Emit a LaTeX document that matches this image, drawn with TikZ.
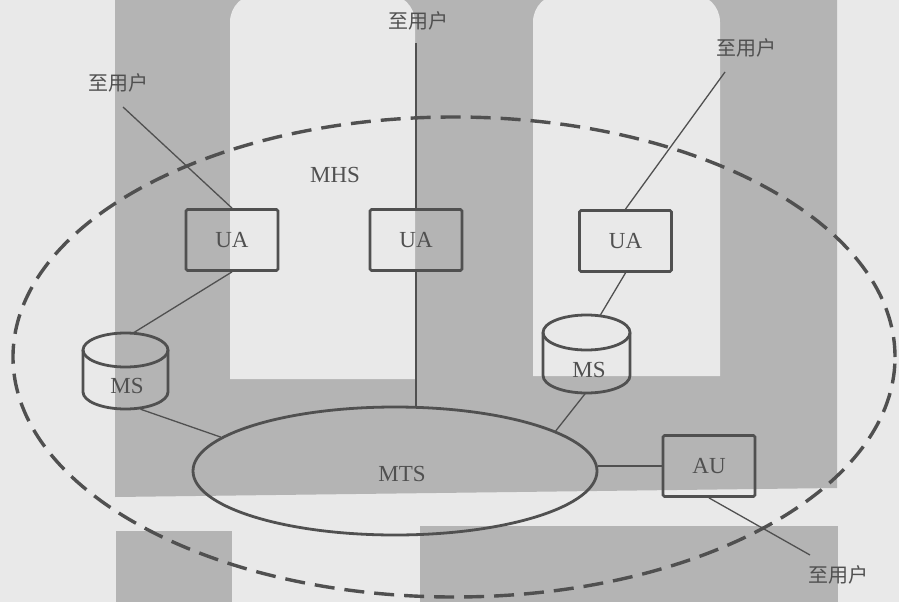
\documentclass[tikz,border=0pt]{standalone}
\usepackage{fontspec}
\setmainfont{Liberation Serif}
\newfontfamily\cjk{Noto Sans CJK SC}
\usetikzlibrary{calc,shapes.geometric}
\definecolor{bgc}{HTML}{E9E9E9}
\definecolor{greyfill}{HTML}{B4B4B4}
\definecolor{ink}{HTML}{505050}
\begin{document}
\begin{tikzpicture}[x=1pt,y=-1pt,
  every node/.style={text=ink,font=\fontsize{23}{27}\selectfont},
  box/.style={draw=ink,line width=2.8pt,rounded corners=1.5pt,minimum width=92pt,minimum height=61pt,inner sep=0pt},
  store/.style={minimum width=85pt,minimum height=76pt,inner sep=0pt},
  cyl/.style={draw=ink,line width=2.8pt},
  link/.style={draw=ink,line width=1.3pt},
  userlbl/.style={font=\cjk\fontsize{20}{24}\selectfont,inner sep=0pt}]
% background and scan shading
\fill[bgc] (0,0) rectangle (899,602);
\useasboundingbox (0,0) rectangle (899,602);
\fill[greyfill] (115,0) -- (837,0) -- (837,488) -- (115,497) -- cycle;
\fill[bgc] (230,379) [rounded corners=28pt] -- (230,-6) -- (415,-6) [sharp corners] -- (415,379) -- cycle;
\fill[bgc] (533,376) [rounded corners=28pt] -- (533,-6) -- (720,-6) [sharp corners] -- (720,376) -- cycle;
\fill[greyfill] (116,531) rectangle (232,602);
\fill[greyfill] (420,526) rectangle (838,602);
% MHS boundary
\draw[ink,line width=3.4pt,dash pattern=on 20pt off 10pt] (454,357) ellipse [x radius=441pt,y radius=240pt];
\node (mhs) at (335,175) {MHS};
% nodes
\node[box] (ua1) at (232,240) {UA};
\node[box] (ua2) at (416,240) {UA};
\node[box] (ua3) at (625.5,241) {UA};
\node[box] (au) at (709,466) {AU};
\node[draw=ink,line width=2.8pt,ellipse,minimum width=404pt,minimum height=128pt,inner sep=0pt] (mts) at (395,471) {};
\node (mtslbl) at (402,474) {MTS};
% MS stores
\node[store] (ms1) at (125.5,371) {};
\draw[cyl] (125.5,350) ellipse [x radius=42.5pt,y radius=17pt];
\draw[cyl] (83,350) -- (83,392) arc[start angle=180,end angle=360,x radius=42.5pt,y radius=17pt] -- (168,350);
\node (ms1lbl) at (127,386) {MS};
\node[store,minimum width=87pt,minimum height=78pt] (ms2) at (586.5,354) {};
\draw[cyl] (586.5,332.5) ellipse [x radius=43.5pt,y radius=17.5pt];
\draw[cyl] (543,332.5) -- (543,375.5) arc[start angle=180,end angle=360,x radius=43.5pt,y radius=17.5pt] -- (630,332.5);
\node (ms2lbl) at (589,370) {MS};
% user labels and free ends
\node[userlbl] (t1) at (118,83) {至用户};
\node[userlbl] (t2) at (418,21) {至用户};
\node[userlbl] (t3) at (746,48) {至用户};
\node[userlbl] (t4) at (838,575) {至用户};
\coordinate (c1) at (123,107);
\coordinate (c2) at (416,43);
\coordinate (c3) at (725,72);
\coordinate (c4) at (810,555);
% connectors
\draw[link] (c1) -- (ua1.north);
\draw[link] (c2) -- (ua2.north);
\draw[link] (c3) -- (ua3.north);
\draw[link] (ua1.south) -- ($(ms1.north)+(8,0)$);
\draw[link] ($(ms1.south)+(15,0)$) -- (mts.169);
\draw[link] (ua2.south) -- (ua2.south |- mts.north);
\draw[link] (ua3.south) -- ($(ms2.north)+(14,0)$);
\draw[link] ($(ms2.south)+(-1,0)$) -- (mts.14.5);
\draw[link] (au.west) -- (au.west -| mts.east);
\draw[link] (au.south) -- (c4);
\end{tikzpicture}
\end{document}
